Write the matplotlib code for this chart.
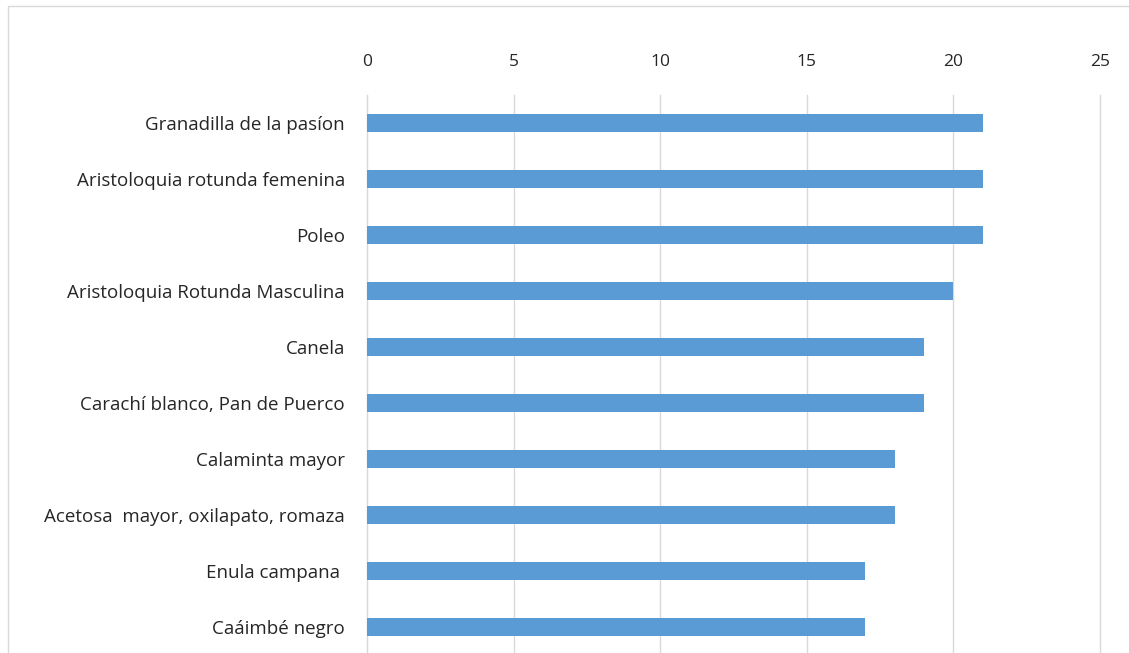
import matplotlib.pyplot as plt
from matplotlib.patches import Rectangle

# Data
plantas = ['Granadilla de la pasíon', 'Aristoloquia rotunda femenina', 'Poleo',
           'Aristoloquia Rotunda Masculina', 'Canela', 'Carachí blanco, Pan de Puerco',
           'Calaminta mayor', 'Acetosa  mayor, oxilapato, romaza', 'Enula campana ',
           'Caáimbé negro']
valores = [21, 21, 21, 20, 19, 19, 18, 18, 17, 17]
ticks = [0, 5, 10, 15, 20, 25]

plt.rcParams['font.family'] = ['Open Sans', 'DejaVu Sans']

fig = plt.figure(figsize=(11.29, 6.53), dpi=100)
ax = fig.add_axes([367/1129, -2/653, (1100-367)/1129, (655-95)/653])

ax.barh(range(len(plantas)), valores, height=0.32, color='#5b9bd5', zorder=3)
ax.set_ylim(len(plantas)-0.5, -0.5)
ax.set_xlim(0, 25)
ax.set_xticks(ticks)
ax.set_yticks(range(len(plantas)))
ax.set_yticklabels(plantas)
ax.xaxis.tick_top()
ax.tick_params(axis='x', length=0, pad=18, labelsize=12.5, colors='#262626')
ax.tick_params(axis='y', length=0, pad=16, labelsize=13.5, colors='#262626')
ax.grid(axis='x', color='#d9d9d9', linewidth=1, zorder=0)
for line in ax.get_xgridlines():
    line.set_clip_on(False)
for s in ['top', 'right', 'bottom']:
    ax.spines[s].set_visible(False)
ax.spines['left'].set_color('#d9d9d9')

# outer chart border
fig.patches.append(Rectangle((8/1129, -0.1), 1.2, (653-6)/653 + 0.1,
                             transform=fig.transFigure, fill=False,
                             edgecolor='#d9d9d9', linewidth=1))

fig.savefig('out.png', dpi=100)
